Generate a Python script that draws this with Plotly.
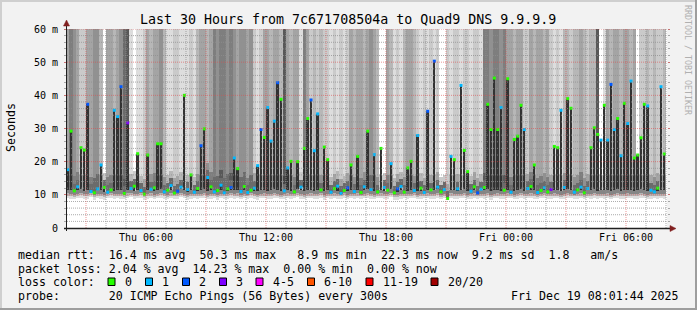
import plotly.graph_objects as go
from datetime import datetime, timedelta

# ---------------- data ----------------
slot_start = datetime(2025, 12, 18, 2, 0)
slot_minutes = 10

# median rtt per slot (ms)
med = [17.6, 29.2, 11.2, 12.4, 24.2, 23.5, 37.3, 11.0, 10.6, 11.8,
       19.0, 12.2, 10.8, 11.5, 35.5, 33.6, 42.6, 10.4, 31.7, 11.9,
       12.6, 22.4, 11.3, 10.2, 22.0, 11.7, 12.1, 25.4, 25.4, 10.9,
       11.4, 12.8, 10.5, 11.1, 12.3, 40.0, 11.6, 16.0, 10.8, 11.9,
       24.8, 29.9, 15.2, 12.4, 10.9, 11.3, 12.9, 10.6, 11.8, 12.2,
       21.1, 17.9, 11.0, 12.5, 10.7, 11.4, 12.0, 18.8, 29.7, 27.3,
       36.3, 26.2, 32.2, 43.8, 38.8, 11.2, 18.1, 20.1, 10.9, 20.0,
       12.3, 24.0, 33.0, 38.6, 23.3, 34.4, 11.5, 24.4, 20.6, 10.8,
       11.9, 12.6, 10.4, 11.3, 12.1, 19.0, 11.0, 21.6, 10.7, 12.4,
       29.2, 11.6, 22.1, 10.9, 24.0, 12.2, 11.4, 19.4, 10.6, 11.8,
       12.5, 10.8, 18.1, 20.1, 11.3, 27.9, 12.0, 10.7, 35.2, 11.5,
       50.3, 12.3, 10.9, 11.6, 8.9, 21.6, 20.6, 11.8, 43.0, 23.4,
       17.0, 11.1, 12.4, 10.6, 11.7, 12.2, 37.3, 29.7, 45.2, 29.7,
       36.3, 11.4, 45.0, 10.8, 26.7, 27.7, 37.0, 29.7, 11.9, 12.5,
       19.0, 10.7, 11.3, 12.1, 10.9, 11.6, 24.6, 24.2, 35.5, 12.2,
       39.0, 36.1, 10.8, 11.5, 12.3, 10.6, 11.9, 24.2, 30.2, 28.2,
       26.5, 37.0, 26.5, 43.3, 29.7, 33.0, 21.8, 37.6, 31.5, 44.3,
       21.1, 22.0, 27.2, 37.3, 36.8, 11.4, 10.9, 12.0, 42.6, 22.3]

# lost pings per slot (index into loss legend)
loss = [1, 0, 0, 1, 0, 0, 2, 1, 0, 1,
        1, 0, 1, 0, 1, 1, 2, 0, 3, 1,
        0, 0, 1, 0, 0, 1, 0, 0, 0, 1,
        0, 1, 0, 2, 1, 0, 1, 0, 1, 0,
        2, 0, 1, 0, 1, 0, 1, 1, 0, 2,
        1, 0, 1, 0, 1, 0, 1, 1, 2, 0,
        1, 1, 1, 2, 0, 1, 1, 0, 0, 0,
        1, 0, 0, 2, 1, 1, 0, 0, 0, 1,
        0, 1, 1, 0, 2, 0, 1, 0, 0, 1,
        0, 1, 1, 0, 0, 1, 0, 1, 0, 2,
        1, 0, 0, 0, 1, 1, 0, 1, 2, 0,
        2, 1, 0, 1, 0, 1, 0, 1, 1, 0,
        0, 1, 0, 2, 1, 0, 0, 0, 0, 0,
        1, 0, 0, 1, 0, 0, 0, 1, 1, 0,
        0, 1, 0, 1, 0, 3, 0, 0, 1, 1,
        0, 0, 1, 0, 1, 0, 1, 0, 0, 0,
        1, 0, 1, 2, 1, 0, 1, 0, 1, 1,
        0, 0, 0, 0, 1, 1, 1, 0, 1, 0]

# fastest ping per slot (ms)
lo = [9.2, 9.0, 8.8, 9.1, 9.3, 8.9, 9.0, 9.4, 8.7, 9.1,
      9.0, 8.6, 9.2, 9.3, 8.9, 9.1, 9.0, 8.8, 9.2, 9.4,
      8.9, 9.1, 9.3, 8.7, 9.0, 9.2, 8.8, 9.1, 9.3, 9.0,
      8.8, 9.2, 9.0, 8.9, 9.4, 9.1, 8.7, 9.0, 9.2, 8.9,
      9.1, 9.3, 8.8, 9.0, 9.2, 8.6, 9.1, 9.0, 8.9, 9.3,
      9.0, 9.2, 8.8, 9.1, 8.9, 9.3, 9.0, 8.7, 9.1, 9.2,
      8.9, 9.0, 9.3, 9.1, 8.8, 9.0, 9.2, 8.9, 9.1, 9.4,
      9.0, 8.8, 9.1, 9.2, 8.9, 9.0, 9.3, 8.7, 9.1, 9.0,
      9.2, 8.9, 9.0, 9.3, 8.8, 9.1, 9.0, 9.2, 8.9, 9.1,
      9.3, 9.0, 8.8, 9.1, 9.2, 8.9, 9.0, 9.4, 8.7, 8.6,
      9.0, 9.2, 8.9, 9.1, 9.3, 8.8, 9.0, 9.1, 9.2, 8.9,
      9.0, 9.3, 8.8, 9.1, 8.5, 9.2, 9.0, 8.9, 9.1, 9.3,
      8.8, 9.0, 9.2, 8.9, 9.1, 9.0, 9.3, 8.7, 9.1, 9.2,
      8.9, 9.0, 9.2, 9.1, 8.8, 9.0, 9.3, 8.9, 9.1, 9.2,
      9.0, 8.8, 9.1, 9.3, 8.9, 9.0, 9.2, 9.1, 8.8, 9.0,
      9.3, 9.1, 8.9, 9.0, 9.2, 8.8, 9.1, 9.0, 9.3, 8.9,
      9.1, 9.0, 9.2, 8.8, 9.1, 9.3, 8.9, 9.0, 9.2, 9.1,
      8.9, 9.0, 9.3, 9.1, 8.8, 9.0, 9.2, 8.9, 9.1, 9.0]

# number of the 20 pings slower than the top of the chart (smoke shade, upper part)
n_top = [4, 6, 5, 4, 2, 2, 4, 4, 5, 5,
         3, 0, 4, 4, 3, 4, 5, 7, 8, 1,
         0, 1, 1, 2, 4, 3, 4, 4, 5, 3,
         1, 1, 2, 2, 1, 1, 1, 2, 1, 3,
         4, 4, 3, 4, 6, 5, 6, 6, 5, 6,
         5, 4, 5, 5, 4, 5, 2, 1, 2, 4,
         4, 3, 4, 4, 3, 8, 4, 3, 4, 4,
         1, 6, 4, 2, 3, 2, 3, 2, 2, 1,
         2, 1, 2, 1, 2, 4, 3, 4, 4, 3,
         4, 5, 4, 3, 0, 0, 4, 3, 1, 2,
         1, 3, 4, 4, 3, 2, 1, 2, 1, 2,
         1, 2, 0, 0, 2, 1, 2, 2, 1, 2,
         2, 1, 2, 2, 1, 6, 6, 5, 6, 6,
         5, 6, 4, 4, 3, 4, 4, 2, 2, 4,
         3, 4, 4, 3, 4, 2, 1, 2, 1, 3,
         3, 2, 3, 3, 4, 3, 2, 3, 3, 8,
         0, 1, 4, 3, 4, 4, 3, 4, 4, 3,
         4, 0, 2, 2, 3, 2, 3, 2, 2, 3]

# number of pings just above the median cluster (smoke shade, lower part)
n_mid = [6, 7, 6, 6, 4, 4, 6, 6, 7, 7,
         5, 2, 6, 6, 5, 6, 7, 8, 9, 3,
         2, 2, 3, 4, 6, 5, 6, 6, 7, 5,
         3, 3, 4, 4, 3, 2, 3, 4, 3, 5,
         6, 6, 5, 6, 7, 7, 8, 7, 7, 8,
         7, 6, 7, 7, 6, 7, 4, 3, 4, 6,
         6, 5, 6, 6, 5, 9, 6, 5, 6, 6,
         2, 7, 6, 4, 5, 4, 5, 4, 4, 3,
         4, 3, 4, 3, 4, 6, 5, 6, 6, 5,
         6, 7, 6, 5, 2, 2, 6, 5, 3, 4,
         3, 5, 6, 6, 5, 4, 3, 4, 3, 4,
         3, 4, 2, 2, 4, 3, 4, 4, 3, 4,
         4, 3, 4, 4, 3, 8, 8, 7, 8, 8,
         7, 8, 6, 6, 5, 6, 6, 4, 4, 6,
         5, 6, 6, 5, 6, 4, 3, 4, 3, 5,
         5, 4, 5, 5, 6, 5, 4, 5, 5, 9,
         2, 2, 6, 5, 6, 6, 5, 6, 6, 5,
         6, 2, 4, 4, 5, 4, 5, 4, 4, 5]

loss_labels = ["0", "1", "2", "3", "4-5", "6-10", "11-19", "20/20"]
loss_colors = ["#26ff00", "#00b8ff", "#0059ff", "#7e00ff",
               "#ff00ff", "#ff5500", "#ff0000", "#a10000"]

title = "Last 30 Hours from 7c671708504a to Quad9 DNS 9.9.9.9"
y_ticks = [0, 10, 20, 30, 40, 50, 60]
y_ticktext = ["0", "10 m", "20 m", "30 m", "40 m", "50 m", "60 m"]
x_ticks = [datetime(2025, 12, 18, 6), datetime(2025, 12, 18, 12), datetime(2025, 12, 18, 18),
           datetime(2025, 12, 19, 0), datetime(2025, 12, 19, 6)]
x_ticktext = ["Thu 06:00", "Thu 12:00", "Thu 18:00", "Fri 00:00", "Fri 06:00"]
x_start = datetime(2025, 12, 18, 2, 3)
x_end = datetime(2025, 12, 19, 8, 3)

stats_lines = [
    "median rtt:  16.4 ms avg  50.3 ms max   8.9 ms min  22.3 ms now  9.2 ms sd  1.8   am/s",
    "packet loss: 2.04 % avg  14.23 % max  0.00 % min  0.00 % now",
    "loss color:",
    "probe:       20 ICMP Echo Pings (56 Bytes) every 300s",
]
stamp = "Fri Dec 19 08:01:44 2025"

# ---------------- geometry ----------------
W, H = 697, 310
L, R, T, B = 67, 667, 29, 228
YMAX = 60
MONO = "DejaVu Sans Mono"


def px(x):
    return (x - L) / (R - L)


def py(y):
    return (B - y) / (B - T)


def shade(n):
    if n <= 0:
        return "#ffffff"
    v = int(190 / 10 * (10 - n)) + 50
    return "#%02x%02x%02x" % (v, v, v)


N = len(med)
step = timedelta(minutes=slot_minutes)
xc = [slot_start + step * i + step / 2 for i in range(N)]
wms = step.total_seconds() * 1000

fig = go.Figure()


def band(base, top, colors, width=wms):
    h = [max(t - b, 0) for b, t in zip(base, top)]
    fig.add_trace(go.Bar(x=xc, base=base, y=h, width=width,
                         marker=dict(color=colors, line=dict(width=0)),
                         hoverinfo="skip", showlegend=False))


c = [min(m, l + 2.4) for m, l in zip(med, lo)]
# upper smoke
band(c, [YMAX + 5] * N, [shade(n) for n in n_top])
# lower smoke (just above the cluster)
band(c, [m + 4.5 if m < 16 else 16 for m in med], [shade(n) for n in n_mid])
# cluster below median
band(lo, [l + 0.6 for l in lo], ["#dddddd"] * N)
band([l + 0.6 for l in lo], [l + 1.3 for l in lo], ["#b4b4b4"] * N)
band([l + 1.3 for l in lo], c, ["#858585"] * N)
# pings just above the median
band(med, [m + 2.2 if m < 16 else m for m in med], ["#6b6b6b"] * N)
# median band of the spikes (narrow dark stroke)
band(c, med, ["#323232"] * N, width=wms * 0.55)

# median markers coloured by loss
fig.add_trace(go.Scatter(x=xc, y=med, mode="markers",
                         marker=dict(symbol="square", size=3,
                                     color=[loss_colors[k] for k in loss],
                                     line=dict(width=0)),
                         hoverinfo="skip", showlegend=False))

# grid drawn on top (rrdtool style)
hours = []
t = datetime(2025, 12, 18, 3)
while t < x_end:
    hours.append(t)
    t += timedelta(hours=1)
minor_x, minor_y, major_x, major_y = [], [], [], []
for h in hours:
    if h.hour % 3 == 0:
        major_x += [h, h, None]
        major_y += [0, YMAX, None]
    else:
        minor_x += [h, h, None]
        minor_y += [0, YMAX, None]
for v in range(2, YMAX + 1, 2):
    if v % 10 == 0:
        major_x += [x_start, x_end, None]
        major_y += [v, v, None]
    else:
        minor_x += [x_start, x_end, None]
        minor_y += [v, v, None]
fig.add_trace(go.Scatter(x=minor_x, y=minor_y, mode="lines",
                         line=dict(color="rgba(143,143,143,0.75)", width=1, dash="1px,1px"),
                         hoverinfo="skip", showlegend=False))
fig.add_trace(go.Scatter(x=major_x, y=major_y, mode="lines",
                         line=dict(color="rgba(222,79,79,0.6)", width=1, dash="1px,1px"),
                         hoverinfo="skip", showlegend=False))

shapes = []
# frame shading
shapes.append(dict(type="rect", xref="paper", yref="paper", x0=px(0), x1=px(W), y0=py(0), y1=py(2),
                   fillcolor="#cfcfcf", line=dict(width=0), layer="above"))
shapes.append(dict(type="rect", xref="paper", yref="paper", x0=px(0), x1=px(2), y0=py(0), y1=py(H),
                   fillcolor="#cfcfcf", line=dict(width=0), layer="above"))
shapes.append(dict(type="rect", xref="paper", yref="paper", x0=px(0), x1=px(W), y0=py(H - 2), y1=py(H),
                   fillcolor="#9e9e9e", line=dict(width=0), layer="above"))
shapes.append(dict(type="rect", xref="paper", yref="paper", x0=px(W - 2), x1=px(W), y0=py(0), y1=py(H),
                   fillcolor="#9e9e9e", line=dict(width=0), layer="above"))
# axes
axis_col = "#1f1f1f"
shapes.append(dict(type="line", xref="paper", yref="paper", x0=px(L - 0.5), x1=px(L - 0.5),
                   y0=py(B + 3), y1=py(T - 4), line=dict(color=axis_col, width=1), layer="above"))
shapes.append(dict(type="line", xref="paper", yref="paper", x0=px(L - 3), x1=px(R + 4),
                   y0=py(B + 0.5), y1=py(B + 0.5), line=dict(color=axis_col, width=1.5), layer="above"))
arrow = "#801f1f"
shapes.append(dict(type="path", xref="paper", yref="paper",
                   path="M %f %f L %f %f L %f %f Z" % (px(L - 3.5), py(T - 3), px(L + 2.5), py(T - 3),
                                                         px(L - 0.5), py(T - 9)),
                   fillcolor=arrow, line=dict(color=arrow, width=0.5), layer="above"))
shapes.append(dict(type="path", xref="paper", yref="paper",
                   path="M %f %f L %f %f L %f %f Z" % (px(R + 3), py(B - 2.5), px(R + 3), py(B + 3.5),
                                                         px(R + 9), py(B + 0.5)),
                   fillcolor=arrow, line=dict(color=arrow, width=0.5), layer="above"))

annotations = []
annotations.append(dict(text=title, xref="paper", yref="paper", x=px(348), y=py(19),
                        xanchor="center", yanchor="middle", showarrow=False,
                        font=dict(family=MONO, size=13.3, color="#000000")))
annotations.append(dict(text="Seconds", xref="paper", yref="paper", x=px(11), y=py(128),
                        xanchor="center", yanchor="middle", showarrow=False, textangle=-90,
                        font=dict(family=MONO, size=11.6, color="#000000")))
annotations.append(dict(text="RRDTOOL / TOBI OETIKER", xref="paper", yref="paper", x=px(688), y=py(60),
                        xanchor="center", yanchor="middle", showarrow=False, textangle=90,
                        font=dict(family=MONO, size=8.3, color="#b0b0b0")))

line_y = [255, 268.5, 282, 296]
for s, yy in zip(stats_lines, line_y):
    annotations.append(dict(text=s.replace(" ", "\u00a0"), xref="paper", yref="paper",
                            x=px(16), y=py(yy), xanchor="left", yanchor="middle", showarrow=False,
                            font=dict(family=MONO, size=11.6, color="#000000")))
annotations.append(dict(text=stamp.replace(" ", "\u00a0"), xref="paper", yref="paper",
                        x=px(681), y=py(296), xanchor="right", yanchor="middle", showarrow=False,
                        font=dict(family=MONO, size=11.6, color="#000000")))
box_x = [108, 145.5, 182.5, 219.5, 256, 307.5, 366, 431]
for bx, col, lab in zip(box_x, loss_colors, loss_labels):
    shapes.append(dict(type="rect", xref="paper", yref="paper", x0=px(bx), x1=px(bx + 7),
                       y0=py(278), y1=py(285.5), fillcolor=col,
                       line=dict(color="#000000", width=1), layer="above"))
    annotations.append(dict(text=lab, xref="paper", yref="paper", x=px(bx + 14.5), y=py(282),
                            xanchor="left", yanchor="middle", showarrow=False,
                            font=dict(family=MONO, size=11.6, color="#000000")))

fig.update_layout(
    width=W, height=H,
    margin=dict(l=L, r=W - R, t=T, b=H - B, pad=0),
    paper_bgcolor="#f2f2f2", plot_bgcolor="#ffffff",
    barmode="overlay", bargap=0,
    showlegend=False,
    shapes=shapes, annotations=annotations,
    xaxis=dict(type="date", range=[x_start, x_end], showgrid=False, zeroline=False,
               showline=False, tickvals=x_ticks, ticktext=x_ticktext, ticks="",
               tickfont=dict(family=MONO, size=10, color="#000000"), ticklabelstandoff=2),
    yaxis=dict(range=[0, YMAX], showgrid=False, zeroline=False, showline=False,
               tickvals=y_ticks, ticktext=y_ticktext,
               ticks="outside", ticklen=2, tickcolor="rgba(222,79,79,0.6)", tickwidth=1,
               minor=dict(dtick=2, ticks="outside", ticklen=2, tickcolor="rgba(143,143,143,0.75)"),
               mirror="ticks",
               tickfont=dict(family=MONO, size=10, color="#000000"), ticklabelstandoff=4),
)

fig.write_html("out.html")
